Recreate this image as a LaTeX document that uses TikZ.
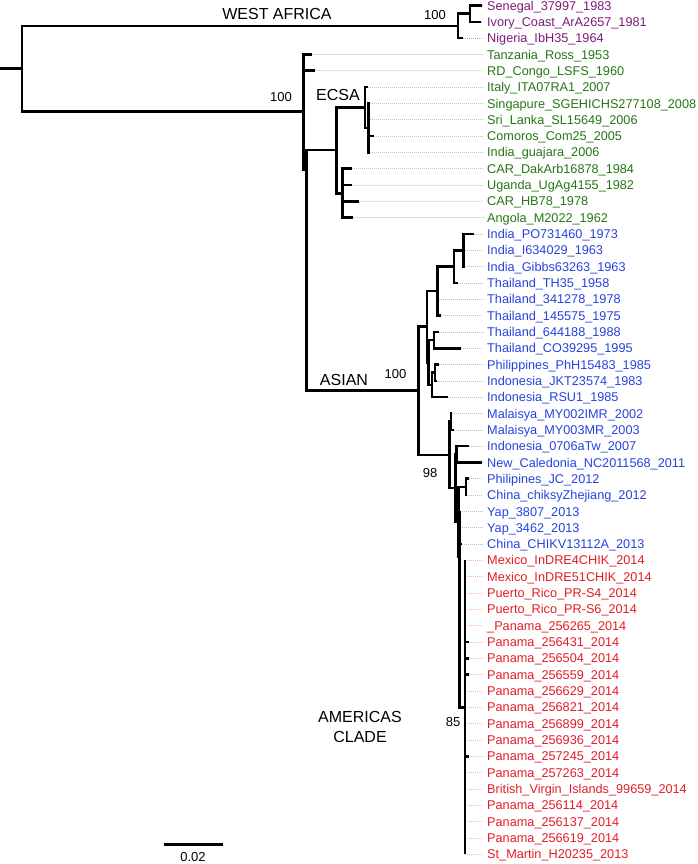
\documentclass[tikz,border=0pt]{standalone}
\usepackage{fontspec}
\setmainfont{Liberation Sans}
\usetikzlibrary{positioning}

\definecolor{waPurple}{RGB}{122,28,122}
\definecolor{ecsaGreen}{RGB}{38,118,22}
\definecolor{asiaBlue}{RGB}{38,66,222}
\definecolor{amerRed}{RGB}{228,28,38}

\begin{document}
\begin{tikzpicture}[
    x=1pt, y=-1pt,
    branch/.style={line width=2.6pt, line join=miter},
    leader/.style={line width=0.6pt, dash pattern=on 1pt off 1pt},
    leaf/.style={anchor=base west, inner sep=0pt, font=\fontsize{12.7}{14}\selectfont},
    clade/.style={font=\fontsize{16}{20}\selectfont, align=center, inner sep=0pt},
    support/.style={font=\fontsize{13}{15}\selectfont, inner sep=0pt}
]
\useasboundingbox (0,0) rectangle (697,864);

% leaves: tip x / label, one row every 16.32
\foreach \tx/\lab [count=\i from 0] in {482/Senegal\_37997\_1983, 481/Ivory\_Coast\_ArA2657\_1981, 463/Nigeria\_IbH35\_1964}{
  \coordinate (t\i) at ({\tx},{5.5+16.32*\i});
  \node[leaf, text=waPurple] (l\i) at (487,{10.1+16.32*\i}) {\lab};
  \draw[leader, waPurple!45] (t\i) -- ([xshift=-4pt]t\i -| l\i.west);
}
\foreach \tx/\lab [count=\i from 3] in {311.5/Tanzania\_Ross\_1953, 315/RD\_Congo\_LSFS\_1960, 367.5/Italy\_ITA07RA1\_2007,
    369.5/Singapure\_SGEHICHS277108\_2008, 369.5/Sri\_Lanka\_SL15649\_2006, 374/Comoros\_Com25\_2005,
    369.5/India\_guajara\_2006, 352/CAR\_DakArb16878\_1984, 352/Uganda\_UgAg4155\_1982,
    359/CAR\_HB78\_1978, 352.5/Angola\_M2022\_1962}{
  \coordinate (t\i) at ({\tx},{5.5+16.32*\i});
  \node[leaf, text=ecsaGreen] (l\i) at (487,{10.1+16.32*\i}) {\lab};
  \draw[leader, ecsaGreen!35] (t\i) -- ([xshift=-4pt]t\i -| l\i.west);
}
\foreach \tx/\lab [count=\i from 14] in {473.5/India\_PO731460\_1973, 463.3/India\_I634029\_1963, 464.5/India\_Gibbs63263\_1963,
    457.5/Thailand\_TH35\_1958, 438.5/Thailand\_341278\_1978, 441/Thailand\_145575\_1975,
    438.5/Thailand\_644188\_1988, 461/Thailand\_CO39295\_1995, 438.5/Philippines\_PhH15483\_1985,
    436.5/Indonesia\_JKT23574\_1983, 447.5/Indonesia\_RSU1\_1985, 452/Malaisya\_MY002IMR\_2002,
    454/Malaisya\_MY003MR\_2003, 468.5/Indonesia\_0706aTw\_2007, 482/New\_Caledonia\_NC2011568\_2011,
    469/Philipines\_JC\_2012, 467/China\_chiksyZhejiang\_2012, 459.5/Yap\_3807\_2013,
    459.5/Yap\_3462\_2013, 461.5/China\_CHIKV13112A\_2013}{
  \coordinate (t\i) at ({\tx},{5.5+16.32*\i});
  \node[leaf, text=asiaBlue] (l\i) at (487,{10.1+16.32*\i}) {\lab};
  \draw[leader, asiaBlue!35] (t\i) -- ([xshift=-4pt]t\i -| l\i.west);
}
\foreach \tx/\lab [count=\i from 34] in {465/Mexico\_InDRE4CHIK\_2014, 465/Mexico\_InDRE51CHIK\_2014,
    465/Puerto\_Rico\_PR-S4\_2014, 465/Puerto\_Rico\_PR-S6\_2014, 465/\_Panama\_256265\_2014,
    468.5/Panama\_256431\_2014, 468.5/Panama\_256504\_2014, 468.5/Panama\_256559\_2014,
    465/Panama\_256629\_2014, 465/Panama\_256821\_2014, 465/Panama\_256899\_2014,
    465/Panama\_256936\_2014, 468.5/Panama\_257245\_2014, 465/Panama\_257263\_2014,
    465/British\_Virgin\_Islands\_99659\_2014, 465/Panama\_256114\_2014, 465/Panama\_256137\_2014,
    465/Panama\_256619\_2014, 465/St\_Martin\_H20235\_2013}{
  \coordinate (t\i) at ({\tx},{5.5+16.32*\i});
  \node[leaf, text=amerRed] (l\i) at (487,{10.1+16.32*\i}) {\lab};
  \draw[leader, amerRed!35] (t\i) -- ([xshift=-4pt]t\i -| l\i.west);
}

% internal nodes
\coordinate (rootstub) at (0,68.8);
\coordinate (nRoot) at (22,68.8);
\coordinate (nWA) at (458,25.9);
\coordinate (nSI) at (470,13.65);
\coordinate (nQ) at (303.5,111.7);
\coordinate (nR) at (306.5,170);
\coordinate (nECSA) at (336.5,150);
\coordinate (nA) at (365,107.4);
\coordinate (nB) at (368.5,127.9);
\coordinate (nD) at (342.5,193.2);
\coordinate (nS) at (418.5,390.7);
\coordinate (nT) at (427,326.6);
\coordinate (nU) at (437.5,291);
\coordinate (nV) at (454,266.6);
\coordinate (nW) at (463.3,250.3);
\coordinate (nX) at (428.5,362.5);
\coordinate (nYa) at (434,340);
\coordinate (nZ) at (432,385);
\coordinate (nYb) at (435,372.7);
\coordinate (nAA) at (449.3,454.8);
\coordinate (nAB) at (451,421.7);
\coordinate (nAC) at (455.5,488);
\coordinate (nAD) at (456.5,454.3);
\coordinate (nAE) at (458.5,521.7);
\coordinate (nAF) at (466,487);
\coordinate (nAG) at (459.5,556.5);
\coordinate (nAM) at (465,707.25);

% branches
\draw[branch] (rootstub) -- (nRoot);
\draw[branch] (nRoot) |- (nWA) (nRoot) |- (nQ);
\draw[branch] (nWA) |- (nSI) (nWA) |- (t2);
\draw[branch] (nSI) |- (t0) (nSI) |- (t1);
\draw[branch] (nQ) |- (t3) (nQ) |- (t4) (nQ) |- (nR);
\draw[branch] (nR) |- (nECSA) (nR) |- (nS);
\draw[branch] (nECSA) |- (nA) (nECSA) |- (nD);
\draw[branch] (nA) |- (t5) (nA) |- (nB);
\draw[branch] (nB) |- (t6) (nB) |- (t7) (nB) |- (t8) (nB) |- (t9);
\draw[branch] (nD) |- (t10) (nD) |- (t11) (nD) |- (t12) (nD) |- (t13);
\draw[branch] (nS) |- (nT) (nS) |- (nAA);
\draw[branch] (nT) |- (nU) (nT) |- (nX);
\draw[branch] (nU) |- (nV) (nU) |- (t18) (nU) |- (t19);
\draw[branch] (nV) |- (nW) (nV) |- (t17);
\draw[branch] (nW) |- (t14) (nW) |- (t15) (nW) |- (t16);
\draw[branch] (nX) |- (nYa) (nX) |- (nZ);
\draw[branch] (nYa) |- (t20) (nYa) |- (t21);
\draw[branch] (nZ) |- (nYb) (nZ) |- (t24);
\draw[branch] (nYb) |- (t22) (nYb) |- (t23);
\draw[branch] (nAA) |- (nAB) (nAA) |- (nAC);
\draw[branch] (nAB) |- (t25) (nAB) |- (t26);
\draw[branch] (nAC) |- (nAD) (nAC) |- (nAE);
\draw[branch] (nAD) |- (t27) (nAD) |- (t28);
\draw[branch] (nAE) |- (nAF) (nAE) |- (nAG);
\draw[branch] (nAF) |- (t29) (nAF) |- (t30);
\draw[branch] (nAG) |- (t31) (nAG) |- (t32) (nAG) |- (t33) (nAG) |- (nAM);
\foreach \i in {34,...,52} \draw[branch] (nAM) |- (t\i);

% clade names and support values
\node[clade] (westafrica) at (277,14) {WEST AFRICA};
\node[support] (bsWA) at (435,15) {100};
\node[clade] (ecsa) at (338,95) {ECSA};
\node[support] (bsECSA) at (281,97) {100};
\node[clade] (asian) at (344,380) {ASIAN};
\node[support] (bsAsian) at (395.5,374) {100};
\node[support] (bsAC) at (430,473) {98};
\node[clade] (americas) at (360,727) {AMERICAS\\CLADE};
\node[support] (bsAM) at (453,722) {85};

% scale bar
\coordinate (barL) at (164,844.3);
\coordinate (barR) at (222.7,844.3);
\draw[line width=2.4pt] (barL) -- (barR);
\node[support] (barlab) at (193,857.5) {0.02};
\end{tikzpicture}
\end{document}
